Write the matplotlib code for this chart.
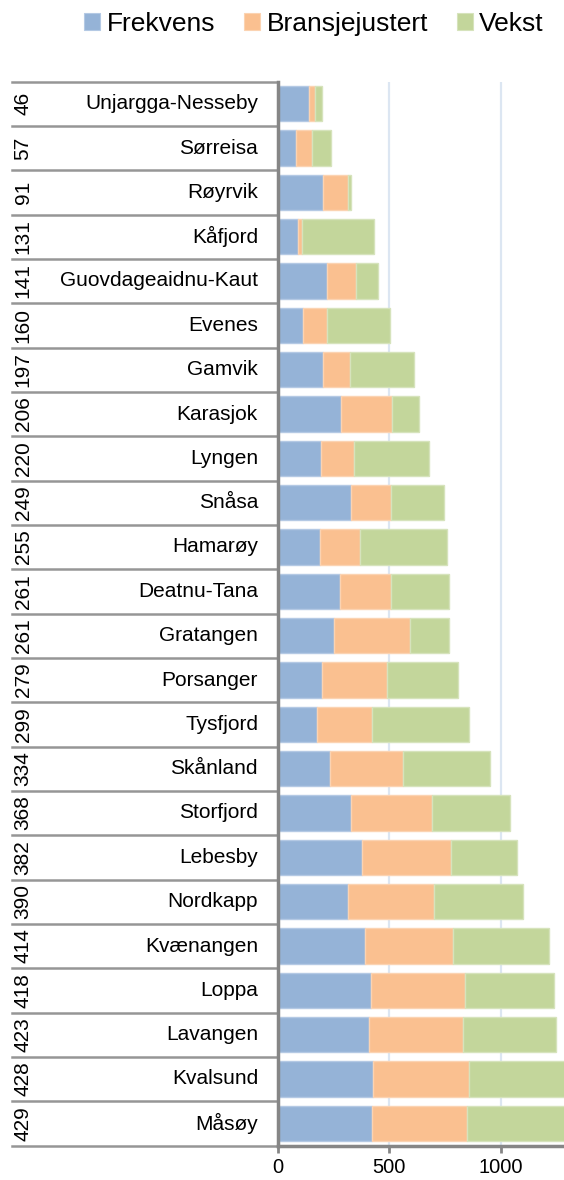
import matplotlib
matplotlib.use("Agg")
import matplotlib.pyplot as plt
from matplotlib.patches import Patch
from matplotlib.lines import Line2D
import matplotlib.transforms as mtransforms

plt.rcParams['font.family'] = ['Liberation Sans', 'DejaVu Sans']

names = ["Unjargga-Nesseby", "Sørreisa", "Røyrvik", "Kåfjord", "Guovdageaidnu-Kaut",
         "Evenes", "Gamvik", "Karasjok", "Lyngen", "Snåsa", "Hamarøy", "Deatnu-Tana",
         "Gratangen", "Porsanger", "Tysfjord", "Skånland", "Storfjord", "Lebesby",
         "Nordkapp", "Kvænangen", "Loppa", "Lavangen", "Kvalsund", "Måsøy"]
codes = ["46", "57", "91", "131", "141", "160", "197", "206", "220", "249", "255", "261",
         "261", "279", "299", "334", "368", "382", "390", "414", "418", "423", "428", "429"]
frekvens = [138, 81, 202, 88, 219, 114, 202, 283, 193, 329, 189, 278,
            251, 198, 177, 235, 328, 379, 316, 391, 418, 409, 427, 422]
bransje = [30, 73, 112, 21, 130, 105, 123, 227, 147, 180, 178, 231,
           340, 290, 244, 325, 365, 399, 385, 395, 423, 423, 429, 427]
vekst = [30, 84, 15, 324, 99, 284, 284, 123, 337, 238, 390, 260,
         178, 320, 435, 392, 349, 297, 401, 430, 399, 414, 440, 445]
series_names = ["Frekvens", "Bransjejustert", "Vekst"]
x_ticks = [0, 500, 1000]

colors = ["#95B3D7", "#FAC090", "#C3D69B"]
edges = ["#B4C9E4", "#FBD3B2", "#D6E3BC"]

W, H = 564, 1180
fig = plt.figure(figsize=(W / 100, H / 100), dpi=100)
ax_left = 278 / W
ax_bottom = 1 - 1145.5 / H
ax_top = 1 - 81.5 / H
ax = fig.add_axes([ax_left, ax_bottom, 1 - ax_left, ax_top - ax_bottom])

n = len(names)
y = list(range(n))
left = [0] * n
for vals, c, e in zip([frekvens, bransje, vekst], colors, edges):
    ax.barh(y, vals, left=left, height=0.8, color=c, edgecolor=e, linewidth=1.0, zorder=3)
    left = [a + b for a, b in zip(left, vals)]

ax.set_xlim(0, 1284)
ax.set_ylim(n - 0.5, -0.5)

for xv in x_ticks[1:]:
    ax.axvline(xv, color="#DCE6F2", lw=1.6, zorder=1)

for s in ["top", "right"]:
    ax.spines[s].set_visible(False)
for s in ["left", "bottom"]:
    ax.spines[s].set_color("#868686")
    ax.spines[s].set_linewidth(2.5)
    ax.spines[s].set_zorder(5)

ax.set_yticks([])
ax.set_xticks(x_ticks)
ax.set_xticklabels([str(v) for v in x_ticks], fontsize=14.5)
ax.tick_params(axis="x", length=5, width=2, color="#868686", pad=4)

# category table on the left
trans = mtransforms.blended_transform_factory(fig.transFigure, ax.transData)
x0 = 12 / W
for b in range(n + 1):
    ax.add_line(Line2D([x0, ax_left], [b - 0.5, b - 0.5], transform=trans,
                       color="#969696", lw=1.8, clip_on=False, zorder=4))
for i in range(n):
    ax.text(258 / W, i, names[i], transform=trans, ha="right", va="center",
            fontsize=15, color="#000000")
    ax.text(23 / W, i, codes[i], transform=trans, ha="center", va="center",
            rotation=90, fontsize=15, color="#000000")

handles = [Patch(facecolor=c, edgecolor=e, linewidth=0.8) for c, e in zip(colors, edges)]
fig.legend(handles, series_names, loc="center", bbox_to_anchor=(314 / W, 1 - 24 / H),
           ncol=3, frameon=False, fontsize=19, handlelength=0.6, handleheight=0.6,
           handletextpad=0.25, columnspacing=1.1, borderaxespad=0, borderpad=0)

fig.savefig("out.png", dpi=100)
